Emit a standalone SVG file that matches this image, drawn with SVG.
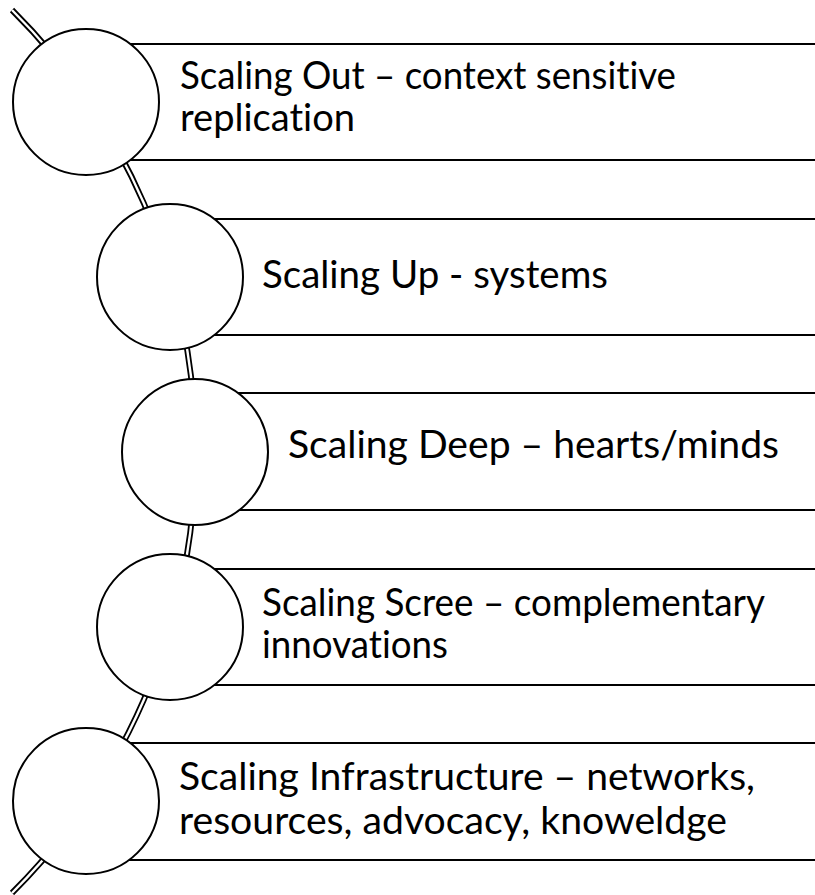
<svg xmlns="http://www.w3.org/2000/svg" width="815" height="895" viewBox="0 0 815 895">
<style>
.box{fill:#fff;stroke:#000;stroke-width:2}
.node{fill:#fff;stroke:#000;stroke-width:2}
.lbl{font-family:Lato,"Open Sans","Liberation Sans",sans-serif;font-size:38.5px;fill:#000;font-variant-ligatures:none;font-feature-settings:"liga" 0,"clig" 0,"dlig" 0}
.arcOut{fill:none;stroke:#000;stroke-width:6}
.arcIn{fill:none;stroke:#fff;stroke-width:2.4}
</style>
<rect width="815" height="895" fill="#fff"/>
<g id="connectors">
<path class="arcOut" d="M 12 10 A 623 623 0 0 1 12 893"/>
<path class="arcIn" d="M 12 10 A 623 623 0 0 1 12 893"/>
</g>
<g id="node-out">
<rect class="box" x="86" y="44" width="740" height="116"/>
<circle class="node" cx="86" cy="102" r="73"/>
<text class="lbl" x="180" y="89" textLength="496" lengthAdjust="spacingAndGlyphs">Scaling Out – context sensitive</text>
<text class="lbl" x="180" y="131" textLength="175" lengthAdjust="spacingAndGlyphs">replication</text>
</g>
<g id="node-up">
<rect class="box" x="170" y="219" width="660" height="116"/>
<circle class="node" cx="170" cy="277" r="73"/>
<text class="lbl" x="262" y="288" textLength="346" lengthAdjust="spacingAndGlyphs">Scaling Up - systems</text>
</g>
<g id="node-deep">
<rect class="box" x="195" y="393" width="640" height="117"/>
<circle class="node" cx="195" cy="452" r="73"/>
<text class="lbl" x="288" y="458" textLength="491" lengthAdjust="spacingAndGlyphs">Scaling Deep – hearts/minds</text>
</g>
<g id="node-scree">
<rect class="box" x="170" y="569" width="660" height="116"/>
<circle class="node" cx="170" cy="627" r="73"/>
<text class="lbl" x="262" y="616" textLength="503" lengthAdjust="spacingAndGlyphs">Scaling Scree – complementary</text>
<text class="lbl" x="262" y="658" textLength="186" lengthAdjust="spacingAndGlyphs">innovations</text>
</g>
<g id="node-infra">
<rect class="box" x="86" y="743" width="740" height="117"/>
<circle class="node" cx="86" cy="801" r="73"/>
<text class="lbl" x="179" y="790" textLength="576" lengthAdjust="spacingAndGlyphs">Scaling Infrastructure – networks,</text>
<text class="lbl" x="179" y="834" textLength="548" lengthAdjust="spacingAndGlyphs">resources, advocacy, knoweldge</text>
</g>
</svg>
